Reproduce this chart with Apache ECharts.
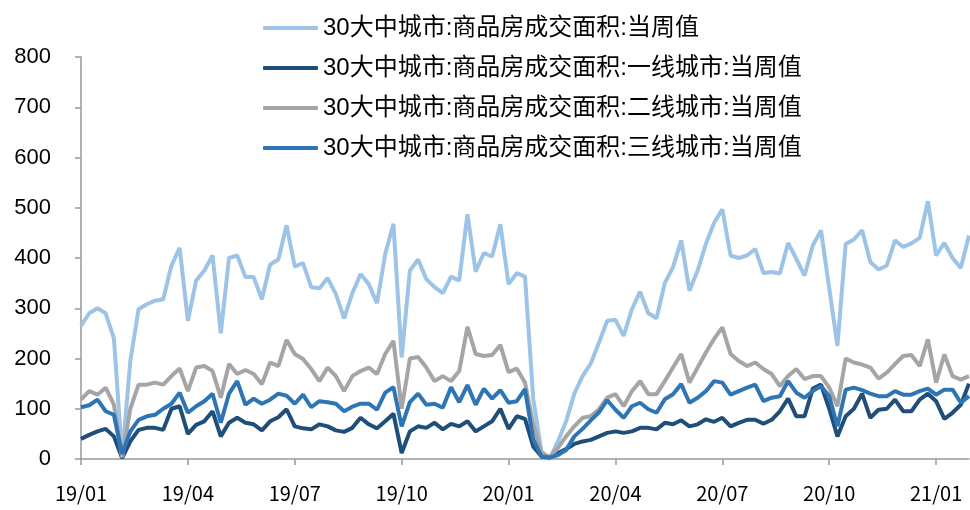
<!doctype html>
<html lang="zh">
<head>
    <meta charset="UTF-8">
    <title>30大中城市商品房成交面积</title>
    <script src="https://cdn.jsdelivr.net/npm/echarts@6/dist/echarts.min.js"></script>
    <style>
        html, body { margin: 0; padding: 0; background: #fff; }
    </style>
</head>
<body>
<div id="main" style="width:970px; height:510px;"></div>

<script>
    // 季度刻度（每13周一个）
    var tickLabels = ['19/01', '19/04', '19/07', '19/10', '20/01', '20/04', '20/07', '20/10', '21/01'];
    var weeksPerTick = 13;

    var seriesNames = [
        '30大中城市:商品房成交面积:当周值',
        '30大中城市:商品房成交面积:一线城市:当周值',
        '30大中城市:商品房成交面积:二线城市:当周值',
        '30大中城市:商品房成交面积:三线城市:当周值'
    ];

    // 当周值，万平方米
    var totalArea = [
        265, 290, 300, 290, 240, 5, 195, 298, 308, 315, 318, 385, 420,
        275, 355, 375, 405, 250, 400, 405, 362, 362, 318, 387, 397, 465,
        383, 390, 342, 340, 360, 328, 280, 330, 368, 348, 310, 408, 468,
        202, 375, 397, 358, 342, 330, 363, 355, 487, 373, 410, 403, 467,
        348, 370, 363, 120, 15, 0, 35, 75, 130, 165, 190, 232, 275,
        277, 245, 298, 333, 290, 280, 350, 382, 435, 335, 375, 428, 470,
        497, 405, 400, 405, 418, 370, 372, 369, 430, 398, 365, 425, 455,
        340, 225, 428, 437, 455, 392, 377, 385, 435, 422, 429, 440, 513,
        405, 430, 400, 380, 445
    ];
    var tier1Area = [
        40, 48, 55, 60, 45, 2, 35, 58, 62, 62, 58, 100, 105,
        50, 68, 75, 95, 45, 72, 82, 72, 69, 57, 75, 83, 99,
        65, 61, 59, 69, 65, 57, 54, 62, 82, 69, 61, 75, 90,
        12, 55, 65, 62, 72, 59, 70, 65, 75, 55, 65, 75, 100,
        60, 85, 80, 25, 5, 3, 12, 20, 30, 35, 38, 45, 52,
        55, 52, 55, 62, 62, 59, 72, 69, 77, 65, 69, 79, 74,
        82, 65, 72, 78, 78, 70, 78, 95, 120, 85, 85, 140, 148,
        100, 45, 85, 100, 130, 82, 98, 100, 118, 95, 95, 118, 130,
        115, 80, 92, 108, 150
    ];
    var tier2Area = [
        118, 135, 128, 142, 108, 3, 100, 148, 148, 152, 148, 165, 180,
        135, 182, 185, 175, 122, 189, 169, 177, 169, 149, 192, 185, 237,
        209, 199, 179, 155, 182, 165, 135, 165, 175, 182, 169, 209, 235,
        100, 200, 203, 182, 155, 165, 155, 175, 263, 209, 205, 207, 227,
        173, 180, 152, 69, 12, 4, 22, 45, 65, 82, 85, 99, 122,
        129, 105, 135, 155, 129, 129, 155, 182, 209, 152, 182, 212, 239,
        262, 209, 195, 185, 192, 179, 169, 145, 165, 179, 159, 165, 165,
        142, 105, 200, 192, 188, 182, 160, 172, 189, 205, 207, 185, 238,
        152, 208, 165, 158, 165
    ];
    var tier3Area = [
        103, 107, 118, 95, 88, 10, 55, 78, 85, 88, 100, 110, 132,
        92, 105, 115, 130, 72, 130, 155, 108, 120, 110, 118, 130, 126,
        110, 128, 103, 115, 113, 110, 95, 104, 110, 110, 98, 132, 143,
        65, 113, 130, 108, 110, 102, 143, 113, 147, 108, 140, 120, 137,
        112, 115, 139, 39, 5, 3, 8, 18, 45, 60, 77, 93, 117,
        98, 82, 105, 112, 99, 92, 119, 129, 149, 112, 122, 135, 155,
        152, 128, 135, 142, 148, 115, 122, 125, 155, 132, 122, 135, 145,
        125, 65, 138, 142, 137, 130, 125, 125, 135, 128, 128, 135, 140,
        128, 138, 138, 112, 125
    ];

    var colors = ['#9DC3E6', '#1F4E79', '#A5A5A5', '#2E75B6'];
    var seriesData = [totalArea, tier1Area, tier2Area, tier3Area];

    var weekIndex = totalArea.map(function (v, i) { return i; });

    var myChart = echarts.init(document.getElementById('main'));
    myChart.setOption({
        animation: false,
        color: colors,
        grid: {
            left: 81,
            right: 1,
            top: 57,
            bottom: 51
        },
        legend: {
            orient: 'vertical',
            left: 258,
            top: 11,
            itemWidth: 55,
            itemHeight: 4,
            itemGap: 16,
            icon: 'roundRect',
            textStyle: {
                fontFamily: 'Liberation Sans, Noto Sans CJK SC',
                fontSize: 24,
                lineHeight: 24,
                color: '#000'
            },
            data: seriesNames
        },
        xAxis: {
            type: 'category',
            boundaryGap: false,
            data: weekIndex,
            axisLine: { lineStyle: { color: '#999', width: 1.5 } },
            axisTick: {
                interval: weeksPerTick - 1,
                length: 6,
                lineStyle: { color: '#999', width: 1.5 }
            },
            axisLabel: {
                interval: weeksPerTick - 1,
                margin: 24,
                fontFamily: 'Noto Sans CJK SC',
                fontSize: 20,
                color: '#000',
                formatter: function (value, index) {
                    return tickLabels[index / weeksPerTick] || '';
                }
            },
            splitLine: { show: false }
        },
        yAxis: {
            type: 'value',
            min: 0,
            max: 800,
            interval: 100,
            axisLine: { show: true, lineStyle: { color: '#999', width: 1.5 } },
            axisTick: { show: true, length: 6, lineStyle: { color: '#999', width: 1.5 } },
            axisLabel: {
                margin: 30,
                fontFamily: 'Liberation Sans',
                fontSize: 22,
                color: '#000'
            },
            splitLine: { show: false }
        },
        series: seriesNames.map(function (name, i) {
            return {
                name: name,
                type: 'line',
                data: seriesData[i],
                showSymbol: false,
                symbol: 'none',
                lineStyle: { width: 4, color: colors[i] },
                itemStyle: { color: colors[i] }
            };
        })
    });
</script>
</body>
</html>
